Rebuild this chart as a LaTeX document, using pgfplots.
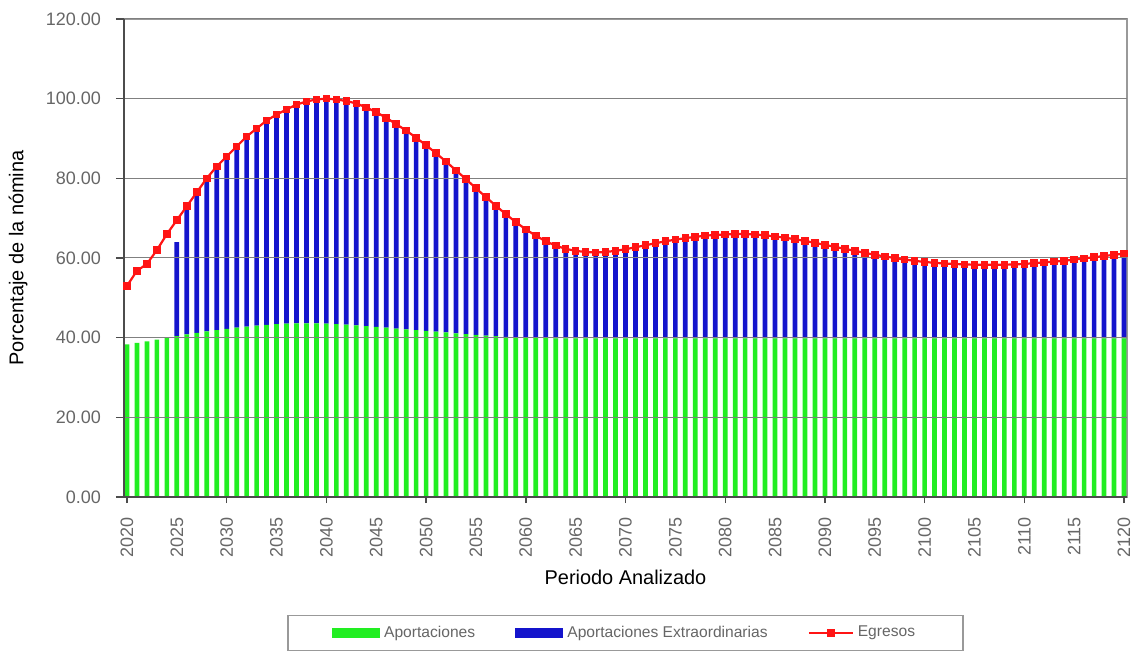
\documentclass[border=0pt]{standalone}
\usepackage{fontspec}
\setmainfont{Liberation Sans}
\usepackage{pgfplots}
\usepackage{pgfplotstable}
\pgfplotsset{compat=1.18}
\definecolor{aporte}{HTML}{22EE22}
\definecolor{extra}{HTML}{1414CC}
\definecolor{egreso}{HTML}{FF1414}
\definecolor{txt}{HTML}{666666}

\pgfplotstableread{
year green blue egresos
2020 38.3 0 53.0
2021 38.7 0 56.8
2022 39.1 0 58.5
2023 39.5 0 62.0
2024 39.9 0 66.0
2025 40.4 23.6 69.5
2026 40.8 32.2 73.0
2027 41.2 35.3 76.5
2028 41.6 38.4 80.0
2029 41.9 41.1 83.0
2030 42.2 43.3 85.5
2031 42.5 45.5 88.0
2032 42.8 47.7 90.5
2033 43.0 49.5 92.5
2034 43.2 51.3 94.5
2035 43.4 52.6 96.0
2036 43.5 53.8 97.3
2037 43.6 54.9 98.5
2038 43.6 55.7 99.3
2039 43.6 56.2 99.8
2040 43.5 56.5 100.0
2041 43.4 56.4 99.8
2042 43.3 56.1 99.4
2043 43.1 55.7 98.8
2044 42.9 54.9 97.8
2045 42.7 53.9 96.6
2046 42.5 52.7 95.2
2047 42.3 51.3 93.6
2048 42.1 49.9 92.0
2049 41.9 48.3 90.2
2050 41.7 46.6 88.3
2051 41.5 44.8 86.3
2052 41.3 42.9 84.2
2053 41.1 40.9 82.0
2054 40.9 38.9 79.8
2055 40.7 36.8 77.5
2056 40.5 34.8 75.3
2057 40.4 32.7 73.1
2058 40.2 30.8 71.0
2059 40.1 28.9 69.0
2060 40.0 27.2 67.2
2061 39.9 25.7 65.6
2062 39.9 24.3 64.2
2063 39.8 23.3 63.1
2064 39.8 22.5 62.3
2065 39.8 22.0 61.8
2066 39.8 21.7 61.5
2067 39.8 21.6 61.4
2068 39.8 21.7 61.5
2069 39.8 22.0 61.8
2070 39.8 22.4 62.2
2071 39.8 22.9 62.7
2072 39.8 23.4 63.2
2073 39.8 23.9 63.7
2074 39.8 24.4 64.2
2075 39.8 24.8 64.6
2076 39.8 25.2 65.0
2077 39.8 25.5 65.3
2078 39.8 25.8 65.6
2079 39.8 26.0 65.8
2080 39.8 26.1 65.9
2081 39.8 26.2 66.0
2082 39.8 26.2 66.0
2083 39.8 26.1 65.9
2084 39.8 25.9 65.7
2085 39.8 25.6 65.4
2086 39.8 25.3 65.1
2087 39.8 24.9 64.7
2088 39.8 24.5 64.3
2089 39.8 24.0 63.8
2090 39.8 23.5 63.3
2091 39.8 23.0 62.8
2092 39.8 22.5 62.3
2093 39.8 22.0 61.8
2094 39.8 21.5 61.3
2095 39.8 21.0 60.8
2096 39.8 20.6 60.4
2097 39.8 20.2 60.0
2098 39.8 19.8 59.6
2099 39.8 19.5 59.3
2100 39.8 19.2 59.0
2101 39.8 19.0 58.8
2102 39.8 18.8 58.6
2103 39.8 18.7 58.5
2104 39.8 18.6 58.4
2105 39.8 18.5 58.3
2106 39.8 18.5 58.3
2107 39.8 18.5 58.3
2108 39.8 18.5 58.3
2109 39.8 18.6 58.4
2110 39.8 18.7 58.5
2111 39.8 18.9 58.7
2112 39.8 19.1 58.9
2113 39.8 19.3 59.1
2114 39.8 19.5 59.3
2115 39.8 19.8 59.6
2116 39.8 20.1 59.9
2117 39.8 20.4 60.2
2118 39.8 20.7 60.5
2119 39.8 21.0 60.8
2120 39.8 21.3 61.1
}\data

\begin{document}
\begin{tikzpicture}
\path[use as bounding box] (-62bp,-78.5bp) rectangle (505.5bp,248.5bp);
% bars
\begin{axis}[
  at={(0,0)}, anchor=south west,
  scale only axis, width=501.5bp, height=239bp,
  xmin=2019.7, xmax=2120.3, ymin=0, ymax=120,
  xtick=\empty, ytick=\empty,
  axis line style={draw=black!40, line width=0.8bp},
  ybar stacked, bar width=0.47,
]
\addplot[fill=aporte, draw=none] table[x=year,y=green]{\data};
\addplot[fill=extra, draw=none] table[x=year,y=blue]{\data};
\end{axis}
% line, ticks, grid, labels, legend
\begin{axis}[
  at={(0,0)}, anchor=south west,
  scale only axis, width=501.5bp, height=239bp,
  xmin=2019.7, xmax=2120.3, ymin=0, ymax=120,
  axis x line*=bottom, axis y line*=left,
  axis line style={-, draw=black!70, line width=0.9bp},
  ytick={0,20,...,120},
  xtick={2020,2025,...,2120},
  minor xtick={2020,2030,...,2120},
  tick align=outside,
  major tick length=4bp, minor tick length=3bp,
  major x tick style={draw=none},
  every tick/.style={draw=black!70, line width=0.7bp},
  ymajorgrids, grid style={draw=black!50, line width=0.5bp},
  /pgf/number format/assume math mode=true,
  tick label style={font=\fontsize{9bp}{10.5bp}\selectfont, text=txt},
  yticklabel style={/pgf/number format/.cd, fixed, fixed zerofill, precision=2, /tikz/.cd, xshift=-4bp},
  xticklabel style={/pgf/number format/1000 sep={}, /tikz/.cd, yshift=-2.5bp, rotate=90, anchor=east},
  xlabel={Periodo Analizado},
  ylabel={Porcentaje de la nómina},
  label style={font=\fontsize{9.8bp}{12bp}\selectfont, text=txt},
  every axis x label/.style={at={(axis description cs:0.5,0)}, yshift=-40bp, anchor=center},
  every axis y label/.style={at={(axis description cs:0,0.5)}, xshift=-53bp, rotate=90, anchor=center},
  legend style={at={(0.5,-0.2845)}, anchor=center, draw=black!40, line width=0.6bp,
    font=\fontsize{7.8bp}{9bp}\selectfont, text=txt, legend columns=3,
    inner xsep=22bp, inner ysep=3bp,
    /tikz/every even column/.append style={column sep=18bp}},
  legend cell align=left,
]
\addlegendimage{legend image code/.code={\fill[aporte] (0bp,-2bp) rectangle (23.5bp,2bp);}}
\addlegendentry{Aportaciones}
\addlegendimage{legend image code/.code={\fill[extra] (0bp,-2bp) rectangle (23.5bp,2bp);}}
\addlegendentry{Aportaciones Extraordinarias}
\addplot[egreso, line width=1.1bp, mark=square*, mark size=1.35bp,
  legend image code/.code={\path[draw=none, fill=none] (0bp,-2bp) rectangle (22bp,2bp);
    \draw[egreso, line width=1.1bp] (0bp,0bp) -- (22bp,0bp);
    \fill[egreso] (9.6bp,-1.4bp) rectangle (12.4bp,1.4bp);}]
  table[x=year,y=egresos]{\data};
\addlegendentry{Egresos}
\end{axis}
\end{tikzpicture}
\end{document}
